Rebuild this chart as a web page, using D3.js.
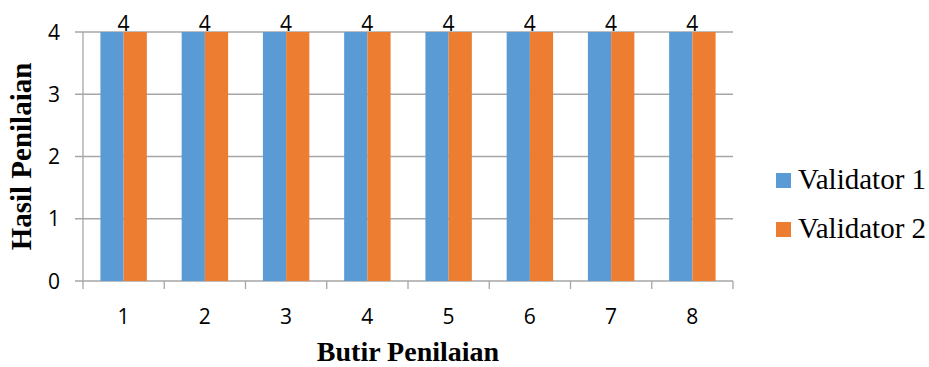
<!DOCTYPE html>
<html><head><meta charset="utf-8">
<script src="https://cdn.jsdelivr.net/npm/d3@7"></script>
<style>body{margin:0;background:#fff}svg{display:block}</style>
</head><body>
<script>
const categories = ["1","2","3","4","5","6","7","8"];
const seriesNames = ["Validator 1","Validator 2"];
const validator1 = [4,4,4,4,4,4,4,4];
const validator2 = [4,4,4,4,4,4,4,4];
const yTicks = [0,1,2,3,4];
const colors = ["#5B9BD5","#ED7D31"];

const W=929,H=367;
const m={left:83,right:196,top:32,bottom:86};
const svg=d3.select("body").append("svg").attr("width",W).attr("height",H);
const x=d3.scaleBand().domain(categories).range([m.left,W-m.right]);
const y=d3.scaleLinear().domain([0,4]).range([H-m.bottom,m.top]);
const inner=d3.scaleBand().domain(seriesNames).range([0,x.bandwidth()]).paddingInner(0).paddingOuter(0.75);
const data=[validator1,validator2];
const grid="#A6A6A6";
const sans="'Open Sans'";
const serif="'Liberation Serif'";

// gridlines
svg.append("g").selectAll("line").data(yTicks).join("line")
  .attr("x1",m.left-8).attr("x2",W-m.right).attr("y1",d=>y(d)).attr("y2",d=>y(d))
  .attr("stroke",grid).attr("stroke-width",1.3);
// y axis line
svg.append("line").attr("x1",m.left).attr("x2",m.left).attr("y1",y(4)).attr("y2",y(0)+8).attr("stroke",grid).attr("stroke-width",1.3);
// x ticks
const bounds=categories.map(c=>x(c)).concat([x(categories[categories.length-1])+x.bandwidth()]);
svg.append("g").selectAll("line").data(bounds.slice(1)).join("line")
  .attr("x1",d=>d).attr("x2",d=>d).attr("y1",y(0)).attr("y2",y(0)+8).attr("stroke",grid).attr("stroke-width",1.3);

// bars
data.forEach((vals,si)=>{
  svg.append("g").selectAll("rect").data(vals).join("rect")
    .attr("x",(d,i)=>x(categories[i])+inner(seriesNames[si]))
    .attr("width",inner.bandwidth())
    .attr("y",d=>y(d)).attr("height",d=>y(0)-y(d))
    .attr("fill",colors[si]);
});
// data labels
svg.append("g").selectAll("text").data(validator1).join("text")
  .attr("x",(d,i)=>x(categories[i])+x.bandwidth()/2).attr("y",d=>y(d)-1)
  .attr("text-anchor","middle").style("font-family",sans).style("font-size","21px").attr("fill","#000").text(d=>d);

// y tick labels
svg.append("g").selectAll("text").data(yTicks).join("text")
  .attr("x",m.left-23).attr("y",d=>y(d)).attr("dy","0.36em").attr("text-anchor","end")
  .style("font-family",sans).style("font-size","21px").attr("fill","#000").text(d=>d);
// x tick labels
svg.append("g").selectAll("text").data(categories).join("text")
  .attr("x",d=>x(d)+x.bandwidth()/2).attr("y",y(0)+43).attr("text-anchor","middle")
  .style("font-family",sans).style("font-size","21px").attr("fill","#000").text(d=>d);

// axis titles
svg.append("text").attr("transform",`translate(31,${(y(0)+y(4))/2}) rotate(-90)`)
  .attr("text-anchor","middle").style("font-family",serif).style("font-weight","bold").style("font-size","29px").text("Hasil Penilaian");
svg.append("text").attr("x",408).attr("y",361).attr("text-anchor","middle")
  .style("font-family",serif).style("font-weight","bold").style("font-size","28px").text("Butir Penilaian");

// legend
const lg=svg.append("g");
seriesNames.forEach((n,i)=>{
  const ly=180+i*49;
  lg.append("rect").attr("x",776).attr("y",ly-7).attr("width",15).attr("height",15).attr("fill",colors[i]);
  lg.append("text").attr("x",798).attr("y",ly+9).style("font-family","'Liberation Serif', 'Times New Roman', serif").style("font-size","29px").attr("fill","#000").text(n);
});
</script>
</body></html>
